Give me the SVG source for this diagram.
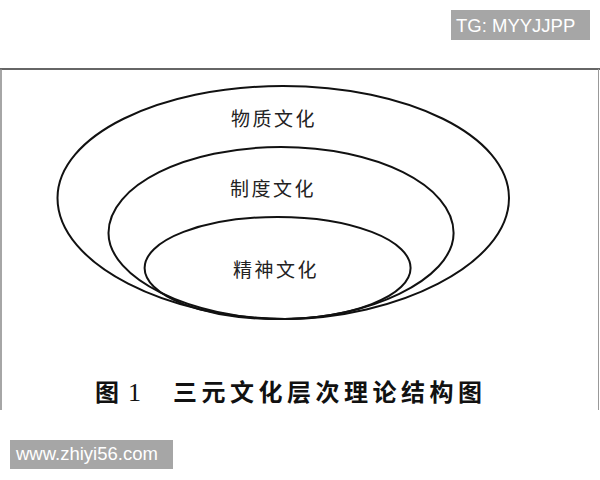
<svg xmlns="http://www.w3.org/2000/svg" width="600" height="480" viewBox="0 0 600 480">
<style>
.ring{fill:none;stroke:#111;stroke-width:2}
.lbl{font-family:"Noto Sans CJK SC","Noto Sans",sans-serif;font-size:19px;fill:#222;letter-spacing:2.5px}
.cap{font-family:"Noto Sans CJK SC","Noto Sans",sans-serif;font-size:24px;font-weight:bold;fill:#111}
.wm{fill:#a6a6a6}
.wmt{font-family:"Liberation Sans",Arial,sans-serif;font-size:18.5px;fill:#fff}
</style>
<rect width="600" height="480" fill="#fff"/>
<g id="frame">
<line x1="0" y1="69" x2="600" y2="69" stroke="#333" stroke-width="1.5"/>
<line x1="1" y1="69" x2="1" y2="410" stroke="#888" stroke-width="1.5"/>
<line x1="598.5" y1="69" x2="598.5" y2="410" stroke="#999" stroke-width="1"/>
</g>
<g id="outer">
<path class="ring" d="M57.5,198 C57.5,136 158.5,86 283,86 C408,86 509,136 509,198 C509,265 395,319 285,319 C170,319 57.5,265 57.5,198 Z"/>
<text class="lbl" x="231" y="126">物质文化</text>
</g>
<g id="middle">
<path class="ring" d="M108.5,233 C108.5,185.5 186,147 281,147 C376,147 453.6,185.5 453.6,233 C453.6,280.5 365,319 285,319 C190,319 108.5,278 108.5,233 Z"/>
<text class="lbl" x="230" y="196">制度文化</text>
</g>
<g id="inner">
<ellipse class="ring" cx="277.6" cy="268" rx="133" ry="51"/>
<text class="lbl" x="233" y="277">精神文化</text>
</g>
<g id="caption">
<text class="cap" x="95" y="401">图</text>
<text x="128" y="401" font-family="Liberation Serif,serif" font-size="26" fill="#111">1</text>
<text class="cap" x="173" y="401" letter-spacing="4.5">三元文化层次理论结构图</text>
</g>
<g id="watermark-tg">
<rect class="wm" x="451" y="10" width="139" height="30"/>
<text class="wmt" x="456" y="32">TG: MYYJJPP</text>
</g>
<g id="watermark-site">
<rect class="wm" x="10" y="440" width="163" height="29"/>
<text class="wmt" x="16" y="460">www.zhiyi56.com</text>
</g>
</svg>
